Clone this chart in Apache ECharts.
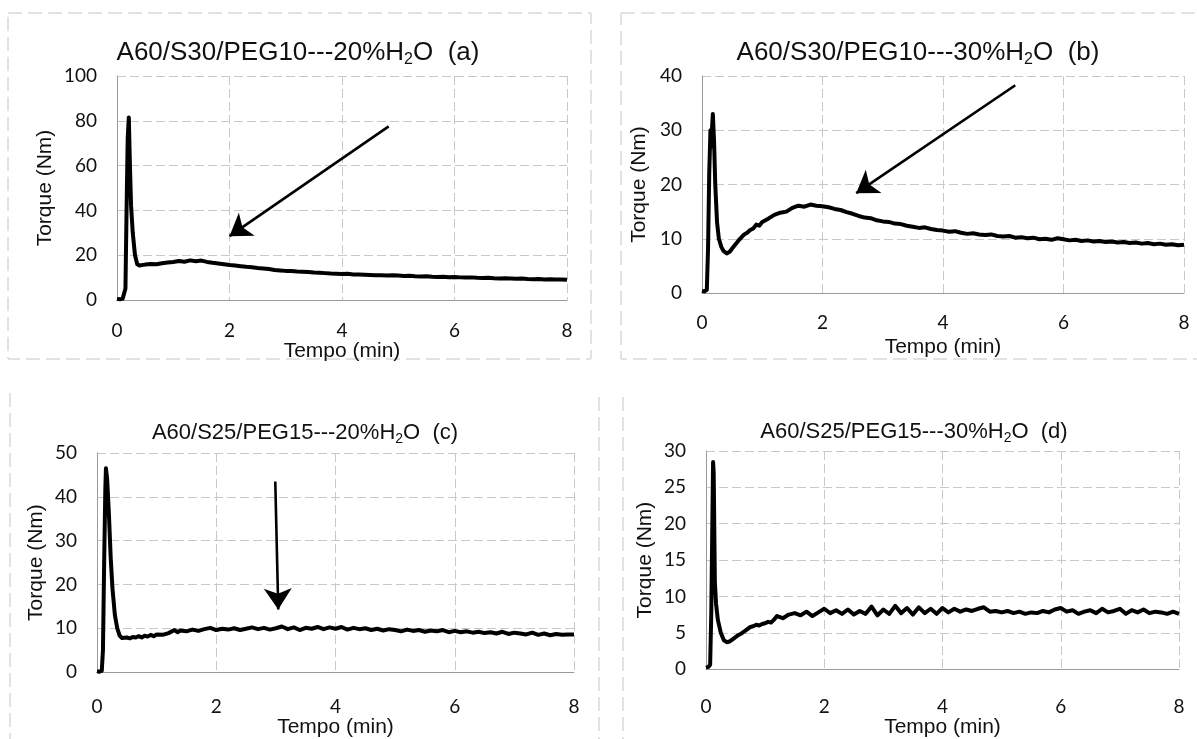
<!DOCTYPE html>
<html>
<head>
<meta charset="utf-8">
<title>Torque vs Tempo</title>
<script src="https://cdn.jsdelivr.net/npm/echarts@6/dist/echarts.min.js"></script>
<style>
  html, body { margin: 0; padding: 0; background: #fff; }
  #chart { width: 1197px; height: 739px; }
</style>
</head>
<body>
<div id="chart"></div>
<script>
// Panel titles (H{sub|2}O is drawn with a rich-text subscript)
const titles = [
    'A60/S30/PEG10---20%H{sub|2}O  (a)',
    'A60/S30/PEG10---30%H{sub|2}O  (b)',
    'A60/S25/PEG15---20%H{sub|2}O  (c)',
    'A60/S25/PEG15---30%H{sub|2}O  (d)'
];

const xTicks = [0, 2, 4, 6, 8];
const yMax = [100, 40, 50, 30];
const yStep = [20, 10, 10, 5];

// Curves: [tempo (min), torque (Nm)]
const curveA = [
    [0, 0.5], [0.05, 0.3], [0.1, 0.6], [0.13, 1.2], [0.15, 5], [0.17, 40], [0.19, 72], [0.21, 81.5],
    [0.23, 60], [0.25, 42], [0.28, 30], [0.32, 20], [0.36, 16], [0.4, 15.4], [0.5, 15.8], [0.6, 16.1],
    [0.7, 16.0], [0.8, 16.4], [0.9, 16.7], [1.0, 17.0], [1.1, 17.4], [1.2, 17.1], [1.3, 17.7], [1.4, 17.3],
    [1.5, 17.6], [1.6, 17.0], [1.7, 16.6], [1.8, 16.3], [1.9, 16.0], [2.0, 15.6], [2.1, 15.4], [2.2, 15.1],
    [2.3, 14.8], [2.4, 14.6], [2.5, 14.3], [2.6, 14.1], [2.7, 13.8], [2.8, 13.4], [2.9, 13.2], [3.0, 13.0],
    [3.1, 12.9], [3.2, 12.7], [3.3, 12.6], [3.4, 12.5], [3.5, 12.3], [3.6, 12.2], [3.7, 12.0], [3.8, 11.8],
    [3.9, 11.7], [4.0, 11.6], [4.1, 11.7], [4.2, 11.4], [4.3, 11.4], [4.4, 11.3], [4.5, 11.2], [4.6, 11.1],
    [4.7, 11.1], [4.8, 10.9], [4.9, 11.0], [5.0, 10.9], [5.1, 10.7], [5.2, 10.8], [5.3, 10.6], [5.4, 10.5],
    [5.5, 10.6], [5.6, 10.4], [5.7, 10.3], [5.8, 10.4], [5.9, 10.2], [6.0, 10.3], [6.1, 10.1], [6.2, 10.0],
    [6.3, 10.1], [6.4, 9.9], [6.5, 9.8], [6.6, 9.9], [6.7, 9.7], [6.8, 9.6], [6.9, 9.7], [7.0, 9.6],
    [7.1, 9.5], [7.2, 9.6], [7.3, 9.4], [7.4, 9.3], [7.5, 9.4], [7.6, 9.2], [7.7, 9.3], [7.8, 9.1],
    [7.9, 9.2], [8.0, 9.0]
];

const curveB = [
    [0, 0.4], [0.04, 0.3], [0.08, 0.6], [0.1, 8], [0.12, 22], [0.14, 30], [0.15, 27], [0.17, 31],
    [0.18, 33], [0.2, 28], [0.22, 20], [0.25, 13], [0.28, 10], [0.32, 8.5], [0.36, 7.7], [0.41, 7.3],
    [0.46, 7.6], [0.5, 8.2], [0.55, 8.9], [0.6, 9.6], [0.65, 10.2], [0.7, 10.8], [0.75, 11.1], [0.8, 11.6],
    [0.85, 11.9], [0.9, 12.6], [0.95, 12.4], [1.0, 13.1], [1.1, 13.7], [1.2, 14.4], [1.3, 14.8], [1.4, 15.0],
    [1.5, 15.7], [1.6, 16.1], [1.7, 15.9], [1.8, 16.3], [1.9, 16.1], [2.0, 16.0], [2.1, 15.8], [2.2, 15.5],
    [2.3, 15.3], [2.4, 14.9], [2.5, 14.6], [2.6, 14.2], [2.7, 13.9], [2.8, 13.8], [2.9, 13.4], [3.0, 13.2],
    [3.1, 13.1], [3.2, 12.8], [3.3, 12.7], [3.4, 12.4], [3.5, 12.2], [3.6, 12.0], [3.7, 12.1], [3.8, 11.8],
    [3.9, 11.6], [4.0, 11.5], [4.1, 11.3], [4.2, 11.4], [4.3, 11.1], [4.4, 10.9], [4.5, 11.0], [4.6, 10.8],
    [4.7, 10.7], [4.8, 10.8], [4.9, 10.5], [5.0, 10.4], [5.1, 10.5], [5.2, 10.2], [5.3, 10.3], [5.4, 10.1],
    [5.5, 10.2], [5.6, 9.9], [5.7, 10.0], [5.8, 9.8], [5.9, 10.1], [6.0, 9.9], [6.1, 9.7], [6.2, 9.8],
    [6.3, 9.6], [6.4, 9.7], [6.5, 9.5], [6.6, 9.6], [6.7, 9.4], [6.8, 9.5], [6.9, 9.3], [7.0, 9.4],
    [7.1, 9.2], [7.2, 9.3], [7.3, 9.1], [7.4, 9.2], [7.5, 9.0], [7.6, 9.1], [7.7, 8.9], [7.8, 9.0],
    [7.9, 8.8], [8.0, 8.9]
];

const curveC = [
    [0, 0.2], [0.04, 0.1], [0.08, 0.3], [0.1, 5], [0.12, 25], [0.14, 42], [0.15, 46.5], [0.17, 44],
    [0.2, 36], [0.23, 26], [0.26, 19], [0.3, 13], [0.34, 10], [0.38, 8.3], [0.42, 7.8], [0.5, 7.9],
    [0.55, 7.7], [0.6, 8.0], [0.65, 7.9], [0.7, 8.2], [0.75, 7.9], [0.8, 8.3], [0.85, 8.1], [0.9, 8.5],
    [0.95, 8.2], [1.0, 8.6], [1.1, 8.5], [1.2, 8.9], [1.3, 9.6], [1.35, 9.1], [1.4, 9.5], [1.5, 9.3],
    [1.6, 9.7], [1.7, 9.4], [1.8, 9.8], [1.9, 10.1], [2.0, 9.6], [2.1, 9.9], [2.2, 9.7], [2.3, 10.0],
    [2.4, 9.6], [2.5, 9.9], [2.6, 10.2], [2.7, 9.8], [2.8, 10.1], [2.9, 9.7], [3.0, 10.0], [3.1, 10.4],
    [3.2, 9.8], [3.3, 10.2], [3.4, 9.6], [3.5, 10.1], [3.6, 9.9], [3.7, 10.3], [3.8, 9.8], [3.9, 10.2],
    [4.0, 9.9], [4.1, 10.3], [4.2, 9.7], [4.3, 10.1], [4.4, 9.8], [4.5, 10.0], [4.6, 9.6], [4.7, 9.9],
    [4.8, 9.5], [4.9, 9.8], [5.0, 9.6], [5.1, 9.3], [5.2, 9.7], [5.3, 9.4], [5.4, 9.6], [5.5, 9.2],
    [5.6, 9.5], [5.7, 9.3], [5.8, 9.6], [5.9, 9.1], [6.0, 9.4], [6.1, 9.1], [6.2, 9.3], [6.3, 9.0],
    [6.4, 9.2], [6.5, 8.9], [6.6, 9.1], [6.7, 8.8], [6.8, 9.2], [6.9, 8.7], [7.0, 9.0], [7.1, 8.8],
    [7.2, 8.6], [7.3, 9.0], [7.4, 8.5], [7.5, 8.8], [7.6, 8.4], [7.7, 8.7], [7.8, 8.5], [7.9, 8.6],
    [8.0, 8.6]
];

const curveD = [
    [0, 0.2], [0.04, 0.3], [0.07, 0.6], [0.09, 8], [0.11, 22], [0.12, 28.5], [0.13, 27], [0.15, 12],
    [0.17, 9], [0.2, 6.8], [0.25, 5], [0.3, 4], [0.35, 3.7], [0.4, 3.8], [0.45, 4.1], [0.5, 4.4],
    [0.55, 4.7], [0.6, 4.9], [0.65, 5.2], [0.7, 5.5], [0.75, 5.8], [0.8, 5.9], [0.85, 6.1], [0.9, 6.0],
    [0.95, 6.2], [1.0, 6.3], [1.05, 6.5], [1.1, 6.4], [1.15, 6.8], [1.2, 7.3], [1.3, 7.0], [1.4, 7.5],
    [1.5, 7.7], [1.6, 7.4], [1.7, 7.9], [1.8, 7.3], [1.9, 7.8], [2.0, 8.3], [2.1, 7.7], [2.2, 8.1],
    [2.3, 7.6], [2.4, 8.2], [2.5, 7.5], [2.6, 8.0], [2.7, 7.6], [2.8, 8.6], [2.9, 7.4], [3.0, 8.2],
    [3.1, 7.6], [3.2, 8.7], [3.3, 7.7], [3.4, 8.4], [3.5, 7.5], [3.6, 8.5], [3.7, 7.7], [3.8, 8.3],
    [3.9, 7.6], [4.0, 8.4], [4.1, 7.8], [4.2, 8.3], [4.3, 7.9], [4.4, 8.2], [4.5, 8.0], [4.6, 8.3],
    [4.7, 8.5], [4.8, 7.9], [4.9, 8.0], [5.0, 7.8], [5.1, 8.0], [5.2, 7.7], [5.3, 7.9], [5.4, 7.6],
    [5.5, 7.8], [5.6, 7.7], [5.7, 8.0], [5.8, 7.8], [5.9, 8.2], [6.0, 8.4], [6.1, 7.9], [6.2, 8.1],
    [6.3, 7.6], [6.4, 7.9], [6.5, 8.1], [6.6, 7.7], [6.7, 8.3], [6.8, 7.8], [6.9, 8.0], [7.0, 8.3],
    [7.1, 7.6], [7.2, 8.1], [7.3, 7.8], [7.4, 8.2], [7.5, 7.7], [7.6, 7.9], [7.7, 7.8], [7.8, 7.6],
    [7.9, 7.9], [8.0, 7.6]
];

// Annotation arrows in data units: [start, tip]
const arrowA = [[4.83, 77.5], [2.0, 28.5]];
const arrowB = [[5.2, 38.3], [2.56, 18.4]];
const arrowC = [[2.99, 43.5], [3.04, 14.3]];

(function () {
    'use strict';

    const chart = echarts.init(document.getElementById('chart'));
    const curves = [curveA, curveB, curveC, curveD];
    const arrows = [arrowA, arrowB, arrowC, null];

    // Plot boxes in pixels
    const grids = [
        { left: 117, top: 76, width: 450, height: 224 },
        { left: 702, top: 76, width: 482, height: 217 },
        { left: 97, top: 453, width: 477, height: 231 },
        { left: 706, top: 451, width: 473, height: 236 }
    ];
    const titleSpots = [
        { x: 298, y: 38, size: 26 },
        { x: 918, y: 38, size: 26 },
        { x: 305, y: 420, size: 22 },
        { x: 914, y: 419, size: 22 }
    ];
    const xLabelMargin = [21, 20, 25, 28];
    const xNameGap = [38, 44, 41, 38];
    const yNameGap = [61, 52, 50, 50];

    const gridColor = '#c8c8c8';
    const textColor = '#111';

    const option = {
        backgroundColor: '#fff',
        animation: false,
        title: titles.map((t, i) => ({
            text: t,
            left: titleSpots[i].x,
            top: titleSpots[i].y,
            textAlign: 'center',
            padding: 0,
            textStyle: {
                fontFamily: 'Liberation Sans, Arial, sans-serif',
                fontWeight: 'normal',
                fontSize: titleSpots[i].size,
                color: textColor,
                lineHeight: titleSpots[i].size + 4,
                rich: {
                    sub: {
                        fontFamily: 'Liberation Sans, Arial, sans-serif',
                        fontSize: Math.round(titleSpots[i].size * 0.62),
                        color: textColor,
                        verticalAlign: 'bottom',
                        lineHeight: Math.round(titleSpots[i].size * 0.62)
                    }
                }
            }
        })),
        grid: grids.map(g => Object.assign({ containLabel: false }, g)),
        xAxis: grids.map((g, i) => ({
            type: 'value',
            gridIndex: i,
            min: xTicks[0],
            max: xTicks[xTicks.length - 1],
            interval: 2,
            name: 'Tempo (min)',
            nameLocation: 'middle',
            nameGap: xNameGap[i],
            nameTextStyle: {
                fontFamily: 'Liberation Sans, Arial, sans-serif',
                fontSize: 21,
                color: textColor
            },
            axisLine: { show: true, lineStyle: { color: '#9a9a9a', width: 1 } },
            axisTick: { show: false },
            axisLabel: {
                margin: xLabelMargin[i],
                fontFamily: 'Lato, sans-serif',
                fontSize: 19,
                color: textColor
            },
            splitLine: { show: true, lineStyle: { color: gridColor, type: [9, 4], width: 1 } }
        })),
        yAxis: grids.map((g, i) => ({
            type: 'value',
            gridIndex: i,
            min: 0,
            max: yMax[i],
            interval: yStep[i],
            name: 'Torque (Nm)',
            nameLocation: 'middle',
            nameGap: yNameGap[i],
            nameTextStyle: {
                fontFamily: 'Liberation Sans, Arial, sans-serif',
                fontSize: 21,
                color: textColor
            },
            axisLine: { show: true, lineStyle: { color: '#9a9a9a', width: 1 } },
            axisTick: { show: false },
            axisLabel: {
                margin: 20,
                fontFamily: 'Lato, sans-serif',
                fontSize: 19,
                color: textColor
            },
            splitLine: { show: true, lineStyle: { color: gridColor, type: [9, 4], width: 1 } }
        })),
        series: curves.map((c, i) => {
            const s = {
                type: 'line',
                xAxisIndex: i,
                yAxisIndex: i,
                data: c,
                showSymbol: false,
                silent: true,
                lineStyle: { color: '#000', width: 4, join: 'round' }
            };
            if (arrows[i]) {
                s.markLine = {
                    silent: true,
                    symbol: ['none', 'arrow'],
                    symbolSize: 21,
                    label: { show: false },
                    lineStyle: { color: '#000', width: 2.6, type: 'solid' },
                    data: [[
                        { coord: arrows[i][0] },
                        { coord: arrows[i][1] }
                    ]]
                };
            }
            return s;
        }),
        // Faint scan frames round each panel
        graphic: [
            { type: 'rect', shape: { x: 8, y: 13, width: 583, height: 346 },
              style: { fill: 'none', stroke: '#c6c6c6', lineWidth: 1, lineDash: [14, 6] }, silent: true },
            { type: 'rect', shape: { x: 621, y: 13, width: 590, height: 346 },
              style: { fill: 'none', stroke: '#c6c6c6', lineWidth: 1, lineDash: [14, 6] }, silent: true },
            { type: 'line', shape: { x1: 10, y1: 393, x2: 10, y2: 739 },
              style: { stroke: '#c6c6c6', lineWidth: 1, lineDash: [14, 6] }, silent: true },
            { type: 'line', shape: { x1: 599, y1: 397, x2: 599, y2: 739 },
              style: { stroke: '#c6c6c6', lineWidth: 1, lineDash: [14, 6] }, silent: true },
            { type: 'line', shape: { x1: 623, y1: 397, x2: 623, y2: 739 },
              style: { stroke: '#c6c6c6', lineWidth: 1, lineDash: [14, 6] }, silent: true }
        ]
    };

    chart.setOption(option);
    window.addEventListener('resize', () => chart.resize());
})();
</script>
</body>
</html>
